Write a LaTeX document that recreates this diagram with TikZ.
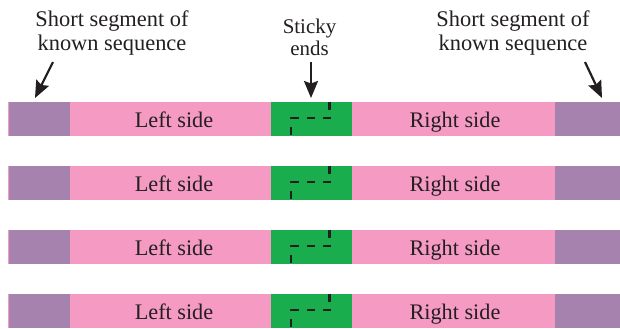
\documentclass[tikz,border=0pt]{standalone}
\usepackage{fontspec}
\setmainfont{Liberation Serif}
\usetikzlibrary{arrows.meta}
\definecolor{purp}{HTML}{A683AE}
\definecolor{pnk}{HTML}{F49AC3}
\definecolor{grn}{HTML}{1AAD4E}
\definecolor{ink}{HTML}{231F20}
\tikzset{
  seg/.style={inner sep=0pt, outer sep=0pt, minimum height=34bp, anchor=north west, text=ink},
  lbl/.style={font=\fontsize{22.3}{24}\selectfont, text=ink, inner sep=0pt, anchor=base},
  captext/.style={font=\fontsize{22.5}{23.5}\selectfont, text=ink, align=center, inner sep=0pt, anchor=base},
  pointer/.style={line width=2.2bp, draw=ink, -{Stealth[length=17bp,width=14bp,inset=2.5bp]}},
  dsh/.style={line width=2.3bp, draw=ink}
}
\begin{document}
\begin{tikzpicture}[x=1bp,y=-1bp]
\useasboundingbox (0,0) rectangle (620,328);
\fill[white] (0,0) rectangle (620,328);
\foreach \r/\t in {1/102,2/166,3/230,4/294}{
  \fill[pnk] (8,\t) rectangle (9,\t+34);
  \node[seg, fill=purp, minimum width=61bp] (pl\r) at (9,\t) {};
  \node[seg, fill=pnk, minimum width=201bp] (kl\r) at (70,\t) {};
  \node[seg, fill=grn, minimum width=81bp] (g\r) at (271,\t) {};
  \node[seg, fill=pnk, minimum width=203bp] (kr\r) at (352,\t) {};
  \node[seg, fill=purp, minimum width=65bp] (pr\r) at (555,\t) {};
  \node[lbl] (tl\r) at (174,\t+25.3) {Left side};
  \node[lbl] (tr\r) at (455,\t+25.3) {Right side};
  \draw[dsh] (290.7,\t+24.7) -- (290.7,\t+32.5);
  \draw[dsh] (290.3,\t+16.3) -- (299,\t+16.3);
  \draw[dsh] (307,\t+16.3) -- (315,\t+16.3);
  \draw[dsh] (323,\t+16.3) -- (331,\t+16.3);
  \draw[dsh] (329.5,\t-0.5) -- (329.5,\t+7.5);
}
\node[captext] (cl) at (112,50) {Short segment of\\known sequence};
\node[captext] (cr) at (513,50) {Short segment of\\known sequence};
\node[captext, font=\fontsize{21}{22}\selectfont] (cs) at (309.5,55) {Sticky\\ends};
\coordinate (al0) at (53,62); \coordinate (al1) at (35,98);
\coordinate (am0) at (311,62); \coordinate (am1) at (311,98);
\coordinate (ar0) at (585,62); \coordinate (ar1) at (602,98);
\draw[pointer] (al0) -- (al1);
\draw[pointer] (am0) -- (am1);
\draw[pointer] (ar0) -- (ar1);
\end{tikzpicture}
\end{document}
